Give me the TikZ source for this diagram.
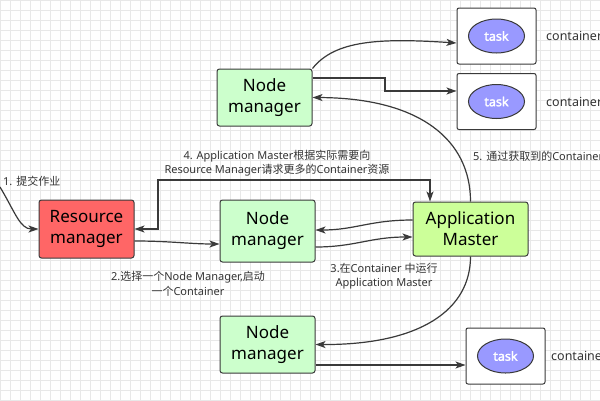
\documentclass[tikz,border=0pt]{standalone}
\usepackage{fontspec}
\setmainfont{Noto Sans}
\newfontfamily\cjk{Noto Sans CJK SC}
\newfontfamily\taskfont{Noto Sans}[FakeBold=2.2]
\usetikzlibrary{arrows.meta,shapes.geometric}
\definecolor{gridc}{HTML}{E8E8E8}
\definecolor{linec}{HTML}{3A3A3A}
\definecolor{rmfill}{HTML}{FF6666}
\definecolor{nmfill}{HTML}{CCFFCC}
\definecolor{amfill}{HTML}{CCFF99}
\definecolor{taskfill}{HTML}{9999FF}
\definecolor{txtc}{HTML}{333333}
\tikzset{
  box/.style={draw=linec, line width=1pt, rounded corners=2.5pt, align=center,
    font=\fontsize{17}{21}\selectfont, text=black, inner sep=0pt},
  nmbox/.style={box, fill=nmfill, minimum width=95pt},
  tbox/.style={draw=linec, line width=1pt, rounded corners=2pt, fill=white,
    minimum width=79pt, minimum height=56pt, inner sep=0pt},
  tell/.style={ellipse, draw=linec, line width=1pt, fill=taskfill,
    minimum width=56pt, minimum height=34pt, inner sep=0pt,
    font=\taskfont\fontsize{12.5}{14}\selectfont, text=white},
  lbl/.style={font=\fontsize{11}{14.5}\selectfont, text=txtc, align=center, inner sep=0pt},
  ctext/.style={font=\fontsize{12.5}{15}\selectfont, text=txtc, anchor=west, inner sep=0pt},
  arr/.style={draw=linec, line width=1.2pt, -{Stealth[length=10pt,width=7pt,inset=2.5pt]}},
  darr/.style={draw=linec, line width=1.2pt, {Stealth[length=10pt,width=7pt,inset=2.5pt]}-{Stealth[length=10pt,width=7pt,inset=2.5pt]}}
}
\begin{document}
\begin{tikzpicture}[x=1pt,y=-1pt]
\useasboundingbox (0,0) rectangle (600,400);
\clip (0,0) rectangle (600,400);
\fill[white] (0,0) rectangle (600,400);
\foreach \i in {0,10,...,600} \draw[gridc, line width=0.6pt] (\i,0) -- (\i,400);
\foreach \j in {0,10,...,400} \draw[gridc, line width=0.6pt] (0,\j) -- (600,\j);

% nodes
\node[nmbox, minimum height=57pt] (nm1) at (264.5,97.5) {Node\\manager};
\node[nmbox, minimum height=62pt] (nm2) at (267.5,231) {Node\\manager};
\node[nmbox, minimum height=57pt] (nm3) at (267.5,344.5) {Node\\manager};
\node[box, fill=rmfill, minimum width=95pt, minimum height=58pt] (rm) at (86.5,229) {Resource\\manager};
\node[box, fill=amfill, minimum width=115pt, minimum height=54pt] (am) at (470.5,229) {Application\\Master};

\node[tbox] (t1) at (496.5,36) {};
\node[tbox] (t2) at (496.5,101.5) {};
\node[tbox] (t3) at (505.5,356) {};
\node[tell] (e1) at (t1.center) {task};
\node[tell] (e2) at (t2.center) {task};
\node[tell] (e3) at (t3.center) {task};
\node[ctext] (c1) at (546,36) {container};
\node[ctext] (c2) at (546,101.5) {container};
\node[ctext] (c3) at (551,356) {container};

% labels
\node[lbl, anchor=west] (l1) at (3,181) {1. {\cjk 提交作业}};
\node[lbl] (l4) at (277,163) {4. Application Master{\cjk 根据实际需要向}\\Resource Manager{\cjk 请求更多的}Container{\cjk 资源}};
\node[lbl] (l2) at (188,284) {2.{\cjk 选择一个}Node Manager,{\cjk 启动}\\{\cjk 一个}Container};
\node[lbl] (l3) at (384,276) {3.{\cjk 在}Container {\cjk 中运行}\\Application Master};
\node[lbl, anchor=west] (l5) at (473,156) {5. {\cjk 通过获取到的}Container};

% connectors
\coordinate (s1) at (0,187);
\draw[arr] (s1) .. controls (15,212) and (20,229) .. (rm.west);
\draw[arr] ([yshift=-12pt]rm.east) .. controls (170,241) and (190,244) .. ([yshift=-13pt]nm2.west);
\coordinate (c4) at (158,180);
\draw[darr] (rm.east) -| (c4) -| ([xshift=-40.5pt]am.north);
\draw[arr] ([yshift=9pt]am.west) .. controls (370,220) and (355,230) .. ([yshift=1pt]nm2.east);
\draw[arr] ([yshift=-16pt]nm2.east) .. controls (355,247) and (370,237) .. ([yshift=-8pt]am.west);

\draw[arr] (nm1.north east) .. controls (335,40) and (380,38) .. ([yshift=-7pt]t1.west);
\coordinate (c2a) at (385,85);
\draw[arr] ([yshift=19.5pt]nm1.east) -| (c2a) |- ([yshift=10.5pt]t2.west);

\draw[arr] (am.north) .. controls (470.5,140) and (420,98) .. (nm1.east);
\draw[arr] (am.south) .. controls (470.5,310) and (420,345) .. (nm3.east);
\draw[arr] ([yshift=-20.5pt]nm3.east) -- ([yshift=-9pt]t3.west);
\end{tikzpicture}
\end{document}
